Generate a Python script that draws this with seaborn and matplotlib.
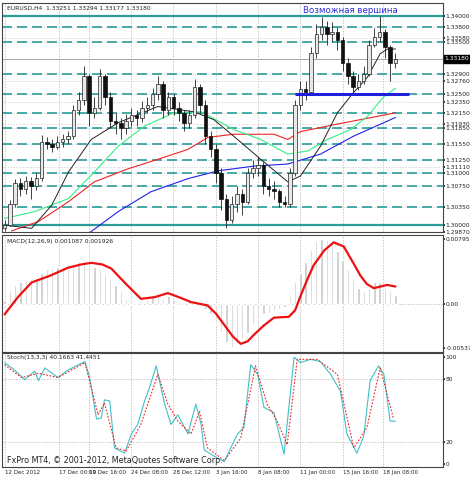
import numpy as np
import pandas as pd
import seaborn as sns
import matplotlib.pyplot as plt

# ---- data (bars are 8h steps) ----
closes = [1.3000, 1.3040, 1.3080, 1.3070, 1.3085, 1.3075, 1.3090, 1.3160, 1.3155, 1.3150,
          1.3160, 1.3165, 1.3170, 1.3220, 1.3240, 1.3285, 1.3215, 1.3225, 1.3285, 1.3245,
          1.3200, 1.3195, 1.3185, 1.3200, 1.3210, 1.3205, 1.3225, 1.3230, 1.3250, 1.3270,
          1.3220, 1.3245, 1.3225, 1.3215, 1.3195, 1.3210, 1.3265, 1.3230, 1.3170, 1.3145,
          1.3100, 1.3050, 1.3010, 1.3040, 1.3060, 1.3045, 1.3100, 1.3110, 1.3115, 1.3075,
          1.3070, 1.3065, 1.3045, 1.3040, 1.3100, 1.3230, 1.3260, 1.3255, 1.3330, 1.3365,
          1.3380, 1.3365, 1.3370, 1.3355, 1.3310, 1.3285, 1.3265, 1.3275, 1.3290, 1.3345,
          1.3360, 1.3370, 1.3340, 1.3310, 1.3318]
opens = [1.2995] + closes[:-1]
highs = [1.3010, 1.3048, 1.3088, 1.3090, 1.3095, 1.3092, 1.3100, 1.3172, 1.3168, 1.3165,
         1.3170, 1.3175, 1.3180, 1.3230, 1.3255, 1.3305, 1.3290, 1.3245, 1.3298, 1.3290,
         1.3255, 1.3215, 1.3205, 1.3212, 1.3225, 1.3220, 1.3238, 1.3245, 1.3262, 1.3285,
         1.3275, 1.3255, 1.3250, 1.3235, 1.3220, 1.3220, 1.3280, 1.3270, 1.3240, 1.3180,
         1.3155, 1.3110, 1.3060, 1.3055, 1.3075, 1.3070, 1.3110, 1.3125, 1.3130, 1.3120,
         1.3090, 1.3085, 1.3070, 1.3055, 1.3110, 1.3240, 1.3275, 1.3275, 1.3340, 1.3385,
         1.3398, 1.3390, 1.3388, 1.3380, 1.3360, 1.3320, 1.3295, 1.3290, 1.3305, 1.3355,
         1.3378, 1.3400, 1.3375, 1.3345, 1.3329]
lows = [1.2988, 1.2998, 1.3035, 1.3055, 1.3060, 1.3050, 1.3068, 1.3085, 1.3145, 1.3140,
        1.3145, 1.3150, 1.3155, 1.3165, 1.3210, 1.3230, 1.3190, 1.3205, 1.3220, 1.3230,
        1.3185, 1.3175, 1.3165, 1.3175, 1.3190, 1.3190, 1.3198, 1.3215, 1.3220, 1.3240,
        1.3205, 1.3210, 1.3210, 1.3200, 1.3180, 1.3185, 1.3205, 1.3215, 1.3155, 1.3130,
        1.3080, 1.3030, 1.2995, 1.3005, 1.3025, 1.3020, 1.3040, 1.3090, 1.3095, 1.3060,
        1.3055, 1.3050, 1.3035, 1.3035, 1.3035, 1.3095, 1.3220, 1.3240, 1.3250, 1.3320,
        1.3355, 1.3345, 1.3350, 1.3335, 1.3295, 1.3270, 1.3255, 1.3258, 1.3270, 1.3285,
        1.3340, 1.3350, 1.3320, 1.3275, 1.3300]

ma_black_x = [0, 5.1, 8.9, 12.1, 16.4, 21.5, 29, 35.8, 39.6, 43.4, 48.5, 53.6, 56, 59.8, 63, 66, 68.7, 71.1, 72.5, 74]
ma_black = [1.3000, 1.2994, 1.3038, 1.3102, 1.3164, 1.3196, 1.3227, 1.3217, 1.3202, 1.3170,
            1.3126, 1.3083, 1.3094, 1.3151, 1.3215, 1.3253, 1.3283, 1.3328, 1.3337, 1.3337]
ma_green_x = [0, 5.7, 12.1, 17, 21.5, 26.4, 32, 37.2, 43.4, 48.5, 53.6, 57.4, 61.1, 65.5, 68.7, 71.7, 74]
ma_green = [1.3013, 1.3026, 1.3051, 1.3102, 1.3151, 1.3189, 1.3215, 1.3217, 1.3183, 1.3164,
            1.3136, 1.3142, 1.3164, 1.3183, 1.3208, 1.3245, 1.3262]
ma_red_x = [1.3, 6.4, 12.1, 17, 23.4, 29, 34.7, 38.5, 43.4, 51, 53.6, 56, 62.3, 67.4, 74]
ma_red = [1.2989, 1.3007, 1.3045, 1.3083, 1.3108, 1.3126, 1.3145, 1.3168, 1.3174, 1.3174,
          1.3164, 1.3179, 1.3192, 1.3202, 1.3215]
ma_blue_x = [16, 21.5, 27.7, 34.7, 40.4, 47.2, 53.6, 59.8, 66, 74]
ma_blue = [1.2985, 1.3026, 1.3064, 1.3089, 1.3104, 1.3113, 1.3117, 1.3136, 1.3170, 1.3206]

macd_hist = [0.0004, 0.0017, 0.0023, 0.0026, 0.0029, 0.0030, 0.0032, 0.0038, 0.0042, 0.0044,
             0.0045, 0.0046, 0.0047, 0.0049, 0.0051, 0.0053, 0.0049, 0.0045, 0.0043, 0.0036,
             0.0030, 0.0023, 0.0015, 0.0006, 0.0002, 0.0000, 0.0002, 0.0006, 0.0011, 0.0011,
             0.0006, 0.0009, 0.0004, 0.0002, 0.0000, 0.0004, 0.0002, -0.0002, -0.0006, -0.0013,
             -0.0023, -0.0034, -0.0047, -0.0053, -0.0049, -0.0043, -0.0036, -0.0026, -0.0019, -0.0013,
             -0.0011, -0.0009, -0.0006, -0.0004, 0.0009, 0.0026, 0.0038, 0.0051, 0.0066, 0.0077,
             0.0079, 0.0078, 0.0073, 0.0064, 0.0053, 0.0043, 0.0030, 0.0019, 0.0015, 0.0019,
             0.0026, 0.0026, 0.0023, 0.0017, 0.0011]
macd_sig_x = [0, 2.5, 5.1, 8.5, 12, 14.5, 16.4, 18.5, 20.2, 23, 25.8, 28.4, 30.9, 33, 35.3,
              38.4, 40, 41.6, 43.2, 44.7, 46, 47.2, 49, 51, 53.8, 55, 56, 57.2, 58.5, 60.5,
              62.3, 64.2, 66, 67.4, 68.6, 69.9, 72.4, 74]
macd_sig = [-0.0013, 0.0008, 0.0026, 0.0034, 0.0044, 0.0048, 0.0050, 0.0048, 0.0043, 0.0024,
            0.0006, 0.0008, 0.0013, 0.0008, 0.0002, -0.0002, -0.0012, -0.0026, -0.0040, -0.0049,
            -0.0046, -0.0038, -0.0027, -0.0017, -0.0016, -0.0008, 0.0009, 0.0028, 0.0047, 0.0065,
            0.0075, 0.0070, 0.0050, 0.0034, 0.0024, 0.0019, 0.0023, 0.0021]

stoch_x = [0, 1.9, 3.8, 5.7, 6.4, 7.6, 10.1, 12, 15.2, 16.1, 17.4, 18.3, 18.9, 19.9, 20.8, 22.7,
           24, 25.2, 26.5, 27.4, 28.7, 30.3, 31.5, 32.8, 34.7, 36.2, 37.2, 37.8, 39.7, 41.6, 42.8,
           44.1, 45.3, 46.6, 47.9, 49.1, 51, 52.9, 54.8, 56, 57.9, 59.8, 61.7, 63.6, 64.8, 66.7,
           68, 69.2, 70.8, 71.8, 73, 74]
stoch_main = [95, 88, 79, 87, 78, 90, 81, 88, 96, 81, 42, 43, 60, 59, 15, 10, 28, 37, 59, 71,
              92, 56, 37, 46, 28, 56, 37, 13, 7, 2, 15, 28, 34, 93, 84, 53, 48, 9, 100, 95,
              98, 96, 84, 68, 28, 10, 26, 78, 92, 84, 40, 40]
stoch_sig_x = [0, 3.2, 6.4, 10.1, 15.2, 17.7, 18.9, 21.1, 23, 25.8, 29, 30.9, 32.8, 35.3, 36.9,
               38.4, 41.6, 44.7, 47.5, 49.7, 51.6, 53.5, 55.4, 59.2, 63, 66.1, 68.6, 71.1, 73.6]
stoch_sig = [93, 81, 85, 81, 95, 46, 57, 15, 12, 37, 84, 56, 40, 28, 49, 15, 3, 24, 92, 56,
             40, 18, 98, 98, 84, 15, 34, 90, 43]

levels_dash = [1.3380, 1.3350, 1.3290, 1.3250, 1.3215, 1.3185, 1.3155, 1.3125, 1.3100, 1.3075, 1.3035]
levels_solid = [1.3400, 1.3000]
price_labels = [1.3400, 1.3380, 1.3358, 1.3350, 1.3290, 1.3276, 1.3250, 1.3235, 1.3215, 1.3193,
                1.3185, 1.3155, 1.3125, 1.3111, 1.3100, 1.3075, 1.3035, 1.3000, 1.2987]
last_price = 1.3318
tick_pos = [0, 10.2, 16, 24, 31.9, 40, 47.9, 56, 64, 71.7]
tick_labels = ["12 Dec 2012", "17 Dec 00:00", "19 Dec 16:00", "24 Dec 08:00", "28 Dec 12:00",
               "3 Jan 16:00", "8 Jan 08:00", "11 Jan 00:00", "15 Jan 16:00", "18 Jan 08:00"]

sns.set_theme(style="white")
plt.rcParams['font.family'] = ['DejaVu Sans']
teal = "#2a9d9b"
fs = 4.3

fig = plt.figure(figsize=(4.7, 4.8), dpi=100)
L, W = 2 / 470, 441 / 470
ax1 = fig.add_axes([L, 1 - 232 / 480, W, 229 / 480])
ax2 = fig.add_axes([L, 1 - 352 / 480, W, 117 / 480], sharex=ax1)
ax3 = fig.add_axes([L, 1 - 467 / 480, W, 114 / 480], sharex=ax1)

idx = np.arange(len(closes))
for ax in (ax1, ax2, ax3):
    ax.set_facecolor("white")
    for s in ax.spines.values():
        s.set_color("#444444")
        s.set_linewidth(0.8)
    ax.yaxis.tick_right()
    ax.tick_params(axis="both", labelsize=fs, length=1.5, pad=0.5, colors="#222222")
    for t in tick_pos:
        ax.axvline(t, color="#b0b0b0", lw=0.5, ls=(0, (2, 2)), zorder=0)

# ---- price panel ----
for y in price_labels:
    ax1.axhline(y, color="#c8c8c8", lw=0.5, ls=(0, (2, 2)), zorder=0)
for y in levels_dash:
    ax1.axhline(y, color=teal, lw=1.2, ls=(0, (6, 3)), zorder=1)
for y in levels_solid:
    ax1.axhline(y, color=teal, lw=1.6, zorder=1)
ax1.axhline(last_price, color="#999999", lw=0.6, zorder=1)

sns.lineplot(x=ma_blue_x, y=ma_blue, ax=ax1, color="#2222ee", lw=0.8)
sns.lineplot(x=ma_red_x, y=ma_red, ax=ax1, color="#ee2222", lw=0.8)
sns.lineplot(x=ma_green_x, y=ma_green, ax=ax1, color="#33ee88", lw=0.8)
sns.lineplot(x=ma_black_x, y=ma_black, ax=ax1, color="#222222", lw=0.7)

o = np.array(opens); c = np.array(closes)
up = c >= o
ax1.vlines(idx, lows, highs, color="#222222", lw=0.6, zorder=3)
ax1.bar(idx[up], (c - o)[up], bottom=o[up], width=0.65, color="#e8e8e8", edgecolor="#222222", lw=0.5, zorder=4)
ax1.bar(idx[~up], (o - c)[~up], bottom=c[~up], width=0.65, color="#111111", edgecolor="#111111", lw=0.5, zorder=4)

ax1.hlines(1.3250, 55, 76.5, color="#1f1fdd", lw=2.2, zorder=5)
ax1.text(65.5, 1.34115, "Возможная вершина", color="#2b2bd8", fontsize=6.2, ha="center", va="center")
ax1.text(0.5, 1.3415, "EURUSD,H4  1.33251 1.33294 1.33177 1.33180", fontsize=fs, va="center", color="#222222")

ax1.set_ylim(1.29885, 1.3425)
ax1.set_yticks(price_labels)
ax1.set_yticklabels([f"{v:.5f}" for v in price_labels])
ax1.text(1.004, last_price, f"{last_price:.5f}", transform=ax1.get_yaxis_transform(), fontsize=fs,
         color="white", va="center", ha="left", bbox=dict(fc="black", ec="black", pad=0.8), clip_on=False)
ax1.set_xlim(-0.5, 83)
plt.setp(ax1.get_xticklabels(), visible=False)

# ---- MACD panel ----
ax2.axhline(0, color="#b0b0b0", lw=0.5, ls=(0, (2, 2)), zorder=0)
ax2.bar(idx, macd_hist, width=0.45, color="#c8c8c8", zorder=1)
sns.lineplot(x=macd_sig_x, y=macd_sig, ax=ax2, color="#ee1111", lw=1.6)
ax2.set_ylim(-0.0059, 0.0084)
ax2.set_yticks([0.007958, 0.0, -0.00537])
ax2.set_yticklabels(["0.007958", "0.00", "-0.00537"])
ax2.text(0.5, 0.0076, "MACD(12,26,9) 0.001087 0.001926", fontsize=fs, va="center", color="#222222")
plt.setp(ax2.get_xticklabels(), visible=False)

# ---- Stochastic panel ----
for y in (80, 20):
    ax3.axhline(y, color="#b0b0b0", lw=0.5, ls=(0, (2, 2)), zorder=0)
sns.lineplot(x=stoch_x, y=stoch_main, ax=ax3, color="#40c0c8", lw=0.8)
sns.lineplot(x=stoch_sig_x, y=stoch_sig, ax=ax3, color="#ee2222", lw=0.8, linestyle=(0, (1.5, 1.5)))
ax3.set_ylim(-3, 104)
ax3.set_yticks([100, 80, 20, 0])
ax3.text(0.5, 100, "Stoch(13,3,3) 40.1663 41.4451", fontsize=fs, va="center", color="#222222")
ax3.text(0.5, 3, "FxPro MT4, © 2001-2012, MetaQuotes Software Corp.", fontsize=5.8, va="center", color="#222222")
ax3.set_xticks(tick_pos)
ax3.set_xticklabels(tick_labels, ha="left")
ax3.tick_params(axis="x", labelsize=4.0)
ax3.set_xlim(-0.5, 83)

for ax in (ax1, ax2, ax3):
    ax.set_xlabel("")
    ax.set_ylabel("")

fig.savefig("out.png", dpi=100)
